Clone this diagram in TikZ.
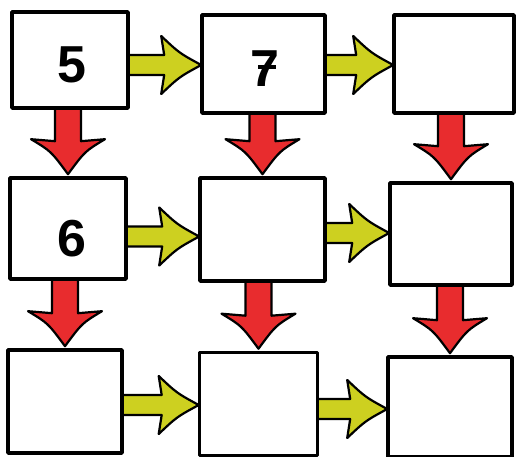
\documentclass[tikz,border=0pt]{standalone}
\usepackage{fontspec}
\setmainfont{Liberation Sans}
\usetikzlibrary{calc,backgrounds}
\definecolor{arrowyellow}{RGB}{205,208,32}
\definecolor{arrowred}{RGB}{232,44,46}
\tikzset{
  box/.style={draw=black, fill=white, line width=3.6pt, line join=round, inner sep=0pt},
  digit/.style={font=\bfseries\fontsize{52}{52}\selectfont, inner sep=0pt},
  yarrow/.style={draw=black, fill=arrowyellow, line width=2.2pt, line join=round},
  rarrow/.style={draw=black, fill=arrowred, line width=2.2pt, line join=round},
}
% horizontal fat arrow from #1 (east) to #2 (west), #3 = vertical offset (px, down)
\newcommand\harrow[3]{%
  \draw[yarrow] let \p1=(#1.east), \p2=(#2.west), \n1={\y2-(#3)*1pt} in
    (\x1-6pt,\n1+10pt) -- (\x2-36pt,\n1+10pt) -- (\x2-39pt,\n1+29pt)
    .. controls (\x2-21pt,\n1+12pt) .. (\x2+1pt,\n1)
    .. controls (\x2-21pt,\n1-12pt) .. (\x2-39pt,\n1-29pt)
    -- (\x2-36pt,\n1-10pt) -- (\x1-6pt,\n1-10pt) -- cycle;}
% vertical fat arrow from #1 (south) to #2 (north)
\newcommand\varrow[2]{%
  \draw[rarrow] let \p1=(#1.south), \p2=(#2.north) in
    (\x2-13pt,\y1+6pt) -- (\x2-13pt,\y2+35pt) -- (\x2-37pt,\y2+37pt)
    .. controls (\x2-17pt,\y2+25pt) .. (\x2,\y2+2pt)
    .. controls (\x2+17pt,\y2+25pt) .. (\x2+37pt,\y2+37pt)
    -- (\x2+13pt,\y2+35pt) -- (\x2+13pt,\y1+6pt) -- cycle;}
\newcommand\crossseven{7\llap{\rule[0.34em]{0.34em}{0.075em}\kern0.06em}}
\begin{document}
\begin{tikzpicture}[x=1pt,y=-1pt]
\useasboundingbox (0,0) rectangle (517,457);
% boxes
\node[box, minimum width=116pt, minimum height=96pt]  (A) at (70,60) {};
\node[box, minimum width=123pt, minimum height=98pt]  (B) at (263.5,64) {};
\node[box, minimum width=120pt, minimum height=98pt]  (C) at (454,64) {};
\node[box, minimum width=116pt, minimum height=101pt] (D) at (68,228.5) {};
\node[box, minimum width=125pt, minimum height=103pt] (E) at (262.5,229.5) {};
\node[box, minimum width=122pt, minimum height=102pt] (F) at (451,234) {};
\node[box, minimum width=114pt, minimum height=103pt] (G) at (65,401.5) {};
\node[box, minimum width=118pt, minimum height=103pt] (H) at (258.5,404) {};
\node[box, minimum width=124pt, minimum height=100pt] (I) at (450,407) {};
% digits
\node[digit] (nA) at ($(A.center)+(2,5)$) {5};
\node[digit] (nB) at ($(B.center)+(1,5)$) {\crossseven};
\node[digit] (nD) at ($(D.center)+(4,10)$) {6};
% arrows
\begin{pgfonlayer}{background}
\harrow{A}{B}{1}
\harrow{B}{C}{1}
\harrow{D}{E}{7}
\harrow{E}{F}{-1}
\harrow{G}{H}{1}
\harrow{H}{I}{2}
\varrow{A}{D}
\varrow{B}{E}
\varrow{C}{F}
\varrow{D}{G}
\varrow{E}{H}
\varrow{F}{I}
\end{pgfonlayer}
\end{tikzpicture}
\end{document}
